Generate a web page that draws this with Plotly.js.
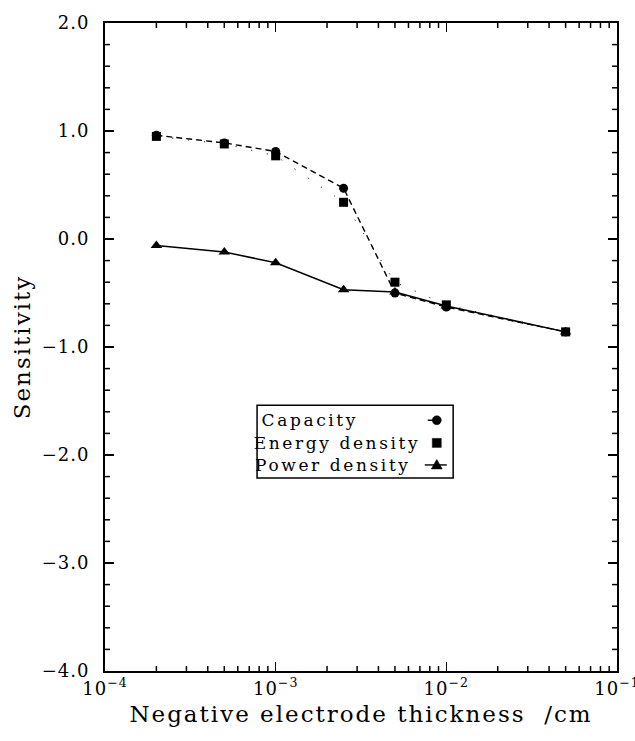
<!DOCTYPE html>
<html>
<head>
<meta charset="utf-8">
<script src="https://cdn.plot.ly/plotly-3.0.1.min.js"></script>
<style>
  html, body { margin: 0; padding: 0; background: #fff; }
  #chart { width: 635px; height: 741px; }
  /* wide, old-style plotter lettering */
  #chart .xtitle, #chart .ytitle { letter-spacing: 2px; }
  #chart .annotation-text { letter-spacing: 2.6px; }
  #chart .xtick text, #chart .ytick text { letter-spacing: 1px; }
</style>
</head>
<body>
<div id="chart"></div>
<script>
// Negative electrode thickness (cm)
const thickness = [2e-4, 5e-4, 1e-3, 2.5e-3, 5e-3, 1e-2, 5e-2];

// Sensitivity of each cell quantity to the electrode thickness
const capacity      = [0.96, 0.89, 0.81, 0.47, -0.50, -0.63, -0.86];
const energyDensity = [0.95, 0.88, 0.77, 0.34, -0.40, -0.61, -0.86];
const powerDensity  = [-0.06, -0.12, -0.22, -0.47, -0.49, -0.62, -0.86];

const seriesNames = ['Capacity', 'Energy density', 'Power density'];

// Labelled decade ticks on the thickness axis
const xDecades = [1e-4, 1e-3, 1e-2, 1e-1];
const xDecadeText = ['10<sup>\u22124</sup>', '10<sup>\u22123</sup>', '10<sup>\u22122</sup>', '10<sup>\u22121</sup>'];

// Unlabelled intermediate ticks
const xMinorTicks = [];
xDecades.slice(0, -1).forEach(d => { for (let m = 2; m <= 9; m++) xMinorTicks.push(m * d); });
const yMinorTicks = [];
for (let k = -20; k <= 10; k++) { if (k % 5 !== 0) yMinorTicks.push(k / 5); }

const FONT = 'DejaVu Serif, serif';
const MINOR_LEN = 5;

// Key box placement (paper fractions of the plotting area)
const KEY = {x0: 0.297, x1: 0.680, y0: 0.298, y1: 0.410,
             textX: 0.323, symX: 0.648, rows: [0.387, 0.352, 0.318]};

const traces = [
  {
    x: thickness, y: powerDensity, name: seriesNames[2], type: 'scatter',
    mode: 'lines+markers', showlegend: false,
    line: {color: '#000', width: 1.5},
    marker: {symbol: 'triangle-up', size: 10, color: '#000'}
  },
  {
    x: thickness, y: energyDensity, name: seriesNames[1], type: 'scatter',
    mode: 'lines+markers', showlegend: false,
    line: {color: '#000', width: 1, dash: '1px,15px'},
    marker: {symbol: 'square', size: 9, color: '#000'}
  },
  {
    x: thickness, y: capacity, name: seriesNames[0], type: 'scatter',
    mode: 'lines+markers', showlegend: false,
    line: {color: '#000', width: 1.4, dash: '6px,4px'},
    marker: {symbol: 'circle', size: 9, color: '#000'}
  }
];

const axisLine = {showline: true, linecolor: '#000', linewidth: 2, mirror: 'ticks',
                  showgrid: false, zeroline: false, tickcolor: '#000'};

// key glyphs: shapes sized in pixels around a paper-space anchor
function keyShape(type, row, extra) {
  return Object.assign({
    type: type, xref: 'paper', yref: 'paper',
    xsizemode: 'pixel', ysizemode: 'pixel',
    xanchor: KEY.symX, yanchor: KEY.rows[row],
    line: {color: '#000', width: 1.4}, fillcolor: '#000'
  }, extra);
}

// short inward tick marks on all four sides of the frame
const tickLine = {color: '#000', width: 1.5};
const minorShapes = [];
xMinorTicks.forEach(v => {
  minorShapes.push({type: 'line', xref: 'x', yref: 'paper', ysizemode: 'pixel',
                    x0: v, x1: v, yanchor: 0, y0: 0, y1: MINOR_LEN, line: tickLine});
  minorShapes.push({type: 'line', xref: 'x', yref: 'paper', ysizemode: 'pixel',
                    x0: v, x1: v, yanchor: 1, y0: -MINOR_LEN, y1: 0, line: tickLine});
});
yMinorTicks.forEach(v => {
  minorShapes.push({type: 'line', xref: 'paper', yref: 'y', xsizemode: 'pixel',
                    y0: v, y1: v, xanchor: 0, x0: 0, x1: MINOR_LEN, line: tickLine});
  minorShapes.push({type: 'line', xref: 'paper', yref: 'y', xsizemode: 'pixel',
                    y0: v, y1: v, xanchor: 1, x0: -MINOR_LEN, x1: 0, line: tickLine});
});

const layout = {
  width: 635, height: 741,
  margin: {l: 105, r: 18, t: 20, b: 70},
  paper_bgcolor: '#fff', plot_bgcolor: '#fff',
  font: {family: FONT, color: '#000', size: 18},
  showlegend: false,
  xaxis: Object.assign({}, axisLine, {
    type: 'log', range: [-4, -1], tickmode: 'array',
    tickvals: xDecades, ticktext: xDecadeText, ticklabeloverflow: 'allow',
    ticks: 'inside', ticklen: 9, tickwidth: 1.6,
    tickfont: {family: FONT, size: 18},
    title: {text: 'Negative electrode thickness  /cm', font: {family: FONT, size: 23}, standoff: 8}
  }),
  yaxis: Object.assign({}, axisLine, {
    range: [-4, 2], dtick: 1, tickformat: '.1f',
    ticks: 'inside', ticklen: 9, tickwidth: 1.6, ticklabelstandoff: 10,
    tickfont: {family: FONT, size: 18},
    automargin: true,
    title: {text: 'Sensitivity', font: {family: FONT, size: 23}, standoff: 9}
  }),
  shapes: [
    {type: 'rect', xref: 'paper', yref: 'paper',
     x0: KEY.x0, x1: KEY.x1, y0: KEY.y0, y1: KEY.y1,
     line: {color: '#000', width: 1.5}, fillcolor: 'rgba(0,0,0,0)'},
    // Capacity: short dash + circle
    keyShape('line', 0, {x0: -9, x1: 0, y0: 0, y1: 0}),
    keyShape('circle', 0, {x0: -4.5, x1: 4.5, y0: -4.5, y1: 4.5, line: {color: '#000', width: 0.5}}),
    // Energy density: square
    keyShape('rect', 1, {x0: -4.5, x1: 4.5, y0: -4.5, y1: 4.5, line: {color: '#000', width: 0.5}}),
    // Power density: line through a triangle
    keyShape('line', 2, {x0: -12, x1: 10, y0: 0, y1: 0}),
    keyShape('path', 2, {path: 'M -5.5 -4 L 5.5 -4 L 0 5.5 Z', line: {color: '#000', width: 0.5}})
  ].concat(minorShapes),
  annotations: seriesNames.map((name, i) => ({
    text: name, xref: 'paper', yref: 'paper', x: KEY.textX, y: KEY.rows[i],
    xanchor: 'left', yanchor: 'middle', showarrow: false,
    font: {family: FONT, size: 17, color: '#000'}
  }))
};

Plotly.newPlot('chart', traces, layout, {displayModeBar: false, staticPlot: true});
</script>
</body>
</html>
